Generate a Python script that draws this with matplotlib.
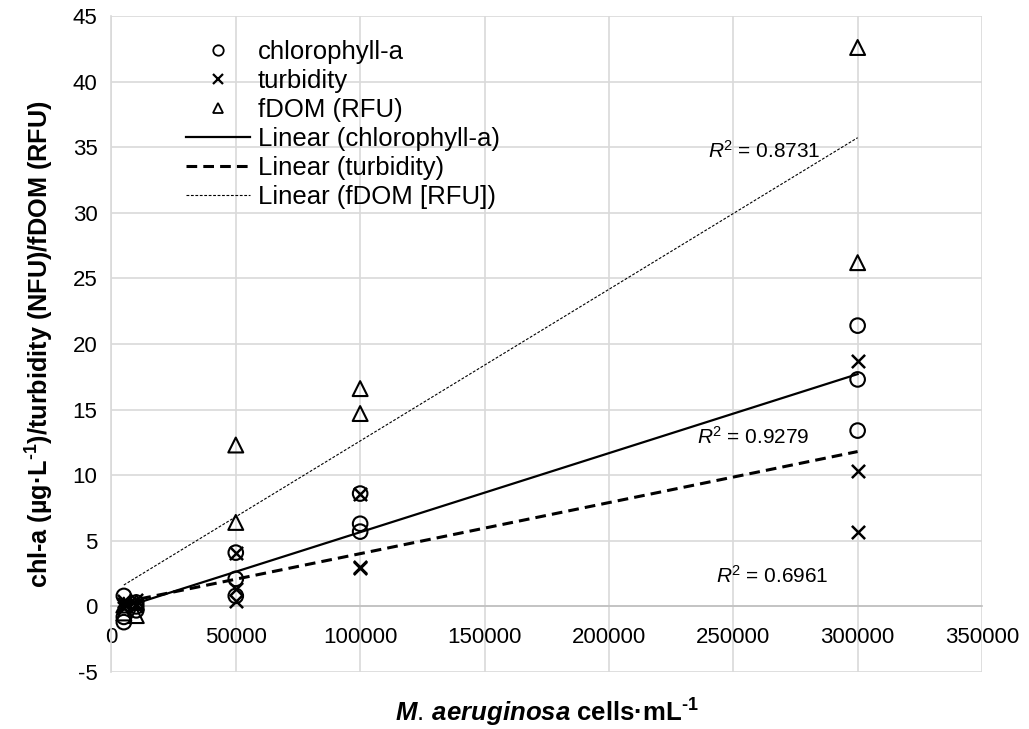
import numpy as np
import matplotlib
matplotlib.use("Agg")
import matplotlib.pyplot as plt
from matplotlib.lines import Line2D

plt.rcParams['font.family'] = ['Liberation Sans', 'DejaVu Sans']
plt.rcParams['axes.unicode_minus'] = False
plt.rcParams['mathtext.fontset'] = 'custom'
plt.rcParams['mathtext.rm'] = 'Liberation Sans'
plt.rcParams['mathtext.it'] = 'Liberation Sans:italic:bold'
plt.rcParams['mathtext.bf'] = 'Liberation Sans:bold'
plt.rcParams['mathtext.sf'] = 'Liberation Sans:italic'

# cell densities (cells/mL)
cells_3 = [5000, 5000, 5000, 10000, 10000, 10000, 50000, 50000, 50000,
           100000, 100000, 100000, 300000, 300000, 300000]
cells_2 = [5000, 5000, 10000, 10000, 50000, 50000, 100000, 100000, 300000, 300000]

chla = [0.8, -0.8, -1.2, 0.3, 0.0, -0.3, 4.1, 2.1, 0.8,
        8.6, 6.3, 5.7, 21.4, 17.3, 13.4]
turbidity = [0.2, 0.4, -0.1, 0.5, 0.2, 0.0, 4.1, 1.3, 0.4,
             8.6, 3.0, 2.9, 18.7, 10.3, 5.7]
fdom = [-0.5, 0.1, -0.7, 0.3, 12.3, 6.4, 16.6, 14.7, 42.6, 26.2]

r2_labels = ['0.8731', '0.9279', '0.6961']

fig = plt.figure(figsize=(10.29, 7.29), dpi=100)
ax = fig.add_axes([111.4 / 1029, 1 - 672 / 729, (982 - 111.4) / 1029, (672 - 16) / 729])

ax.scatter(cells_3, chla, s=110, marker='o', facecolors='none', edgecolors='black',
           linewidths=1.5, zorder=3)
ax.scatter(cells_3, turbidity, s=90, marker='x', color='black', linewidths=1.8, zorder=3)
ax.scatter(cells_2, fdom, s=115, marker='^', facecolors='none', edgecolors='black',
           linewidths=1.5, zorder=3)

# linear trendlines
x3 = np.array(cells_3)
x2 = np.array(cells_2)
xs = np.array([min(cells_3), max(cells_3)])
p_chl = np.polyfit(x3, chla, 1)
p_turb = np.polyfit(x3, turbidity, 1)
p_fdom = np.polyfit(x2, fdom, 1)
ax.plot(xs, np.polyval(p_chl, xs), color='black', lw=1.6, zorder=2)
ax.plot(xs, np.polyval(p_turb, xs), color='black', lw=2.2, ls=(0, (3.5, 2)), zorder=2)
ax.plot(xs, np.polyval(p_fdom, xs), color='black', lw=0.8, ls=(0, (2.5, 1.5)), zorder=2)

ax.set_xlim(0, 350000)
ax.set_ylim(-5, 45)
ax.set_xticks(np.arange(0, 350001, 50000))
ax.set_yticks(np.arange(-5, 46, 5))
ax.grid(True, color='#d9d9d9', lw=1.2)
ax.set_axisbelow(True)
for s in ['top', 'right']:
    ax.spines[s].set_visible(False)
ax.spines['bottom'].set_position(('data', 0))
ax.spines['bottom'].set_color('#bfbfbf')
ax.spines['bottom'].set_linewidth(1.2)
ax.spines['left'].set_color('#d9d9d9')
ax.spines['left'].set_linewidth(1.2)
ax.tick_params(length=0, labelsize=16, colors='black')
ax.tick_params(axis='y', pad=10)
ax.tick_params(axis='x', pad=15)

# R^2 annotations
ax.text(262400, 34.7, r'$\mathsf{R}^{2}$ = ' + r2_labels[0], fontsize=15, ha='center', va='center')
ax.text(257900, 12.9, r'$\mathsf{R}^{2}$ = ' + r2_labels[1], fontsize=15, ha='center', va='center')
ax.text(265600, 2.3, r'$\mathsf{R}^{2}$ = ' + r2_labels[2], fontsize=15, ha='center', va='center')

handles = [
    Line2D([], [], ls='none', marker='o', mfc='none', mec='black', ms=7.5, mew=1.3),
    Line2D([], [], ls='none', marker='x', color='black', ms=7.5, mew=1.6),
    Line2D([], [], ls='none', marker='^', mfc='none', mec='black', ms=7.5, mew=1.3),
    Line2D([], [], color='black', lw=1.6),
    Line2D([], [], color='black', lw=2.2, ls=(0, (3.5, 2))),
    Line2D([], [], color='black', lw=0.8, ls=(0, (2.5, 1.5))),
]
labels = ['chlorophyll-a', 'turbidity', 'fDOM (RFU)', 'Linear (chlorophyll-a)',
          'Linear (turbidity)', 'Linear (fDOM [RFU])']
ax.legend(handles, labels, loc='upper left', bbox_to_anchor=(0.0857, 0.964),
          frameon=False, fontsize=18.5, handlelength=2.5, handletextpad=0.3,
          labelspacing=0.2, borderpad=0, borderaxespad=0)

sup = '$^{\\mathbf{\u20101}}$'
fig.text(547 / 1029, 1 - 713 / 729,
         r'$\mathit{M.\,aeruginosa}$ cells·mL' + sup,
         fontsize=18.5, fontweight='bold', ha='center', va='center')
fig.text(40 / 1029, 1 - 344 / 729,
         'chl-a (µg·L' + sup + ')/turbidity (NFU)/fDOM (RFU)',
         fontsize=18.2, fontweight='bold', ha='center', va='center', rotation=90)

fig.savefig('out.png', dpi=100)
